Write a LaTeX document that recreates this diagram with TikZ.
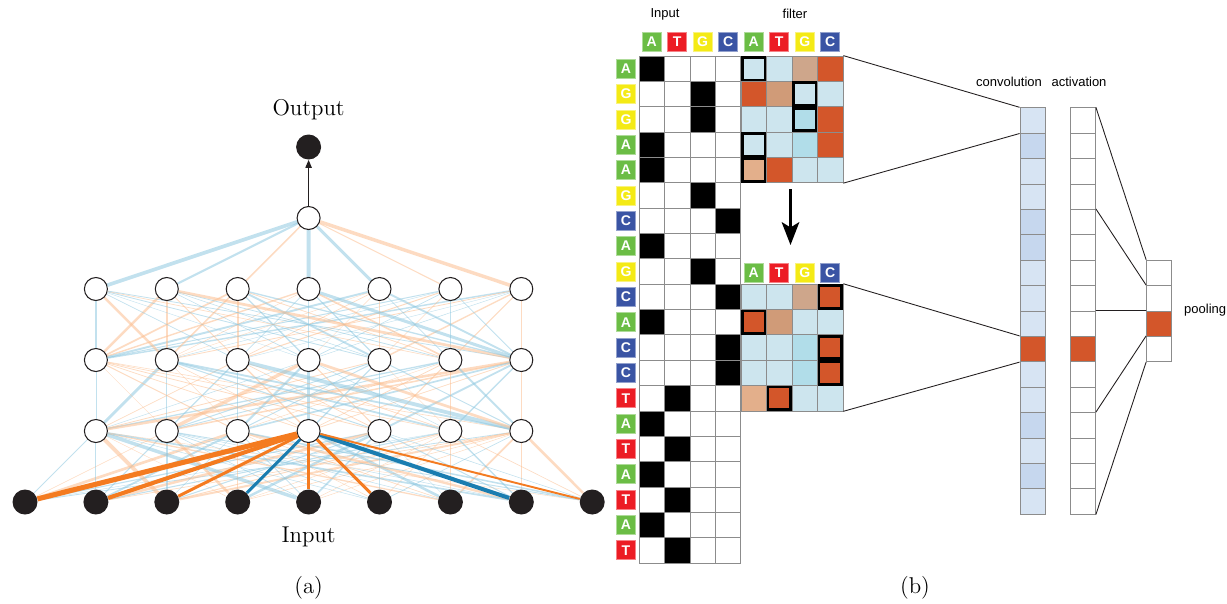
\documentclass[tikz,border=0pt]{standalone}
\usepackage{fontspec}
\setsansfont{Liberation Sans}
\usetikzlibrary{arrows.meta}
\definecolor{nA}{HTML}{6BBD45}
\definecolor{nT}{HTML}{EC1C24}
\definecolor{nG}{HTML}{F4EA15}
\definecolor{nC}{HTML}{3A54A4}
\definecolor{wblue}{HTML}{8FC8E0}
\definecolor{worange}{HTML}{FBBE90}
\definecolor{hblue}{HTML}{1A7DB0}
\definecolor{horange}{HTML}{F47B20}
\definecolor{fl}{HTML}{CDE5EE}
\definecolor{fd}{HTML}{B1DDE9}
\definecolor{fr}{HTML}{D3562A}
\definecolor{ft}{HTML}{CEA68B}
\definecolor{fs}{HTML}{D09B78}
\definecolor{fp}{HTML}{E3AF8B}
\definecolor{cl}{HTML}{D7E4F3}
\definecolor{cd}{HTML}{C6D7EE}
\definecolor{gridline}{HTML}{8C8C8C}
\definecolor{ink}{HTML}{231F20}
\pgfdeclarelayer{bg}
\pgfsetlayers{bg,main}
\tikzset{
  unit/.style={circle,draw=ink,line width=0.6pt,fill=white,minimum size=0.46cm,inner sep=0pt},
  xunit/.style={circle,fill=ink,minimum size=0.5cm,inner sep=0pt},
  wire/.style={line width=#1,opacity=0.55},
  hot/.style={line width=#1},
  cell/.style={draw=gridline,line width=0.45pt,minimum width=0.509cm,minimum height=0.507cm,inner sep=0pt},
  hit/.style={draw=black,line width=1.6pt,minimum width=0.509cm-1.6pt,minimum height=0.507cm-1.6pt,inner sep=0pt},
  base/.style={fill=#1,draw=#1!55!white,line width=0.4pt,text=white,font=\sffamily\bfseries\fontsize{8}{8}\selectfont,minimum size=0.38cm,inner sep=0pt},
  tag/.style={font=\sffamily\fontsize{7.4}{9}\selectfont},
  big/.style={font=\fontsize{13}{15}\selectfont},
  link/.style={draw=ink,line width=0.5pt}
}
\newcommand{\layer}[2]{\foreach \j in {1,...,7} \node[unit] (#1-\j) at ({25+70.9*\j},#2) {};}

\begin{document}
\begin{tikzpicture}[x=0.02cm,y=-0.02cm]
\useasboundingbox (0,0) rectangle (1227,603);
\foreach \k in {1,...,9} \node[xunit] (x-\k) at ({25+70.9*(\k-1)},502) {};
\layer{a}{431}
\layer{b}{360}
\layer{c}{289}
\node[unit] (t) at (308.6,218) {};
\node[xunit] (o) at (308.6,147) {};
\node[big] (outlbl) at (308.6,110) {Output};
\node[big] (inlbl) at (308.6,537) {Input};
\node[big] (la) at (308.6,588) {(a)};
\draw[ink,line width=0.6pt,-{Triangle[length=4.5pt,width=3.6pt]}] (t) -- (o);

\pgfmathsetseed{7}
\begin{pgfonlayer}{bg}
\foreach \k in {1,...,9} \foreach \j in {1,...,7} {
  \pgfmathsetmacro\lw{0.2+2.2*rnd*rnd}
  \pgfmathtruncatemacro\hue{rnd<0.55}
  \ifnum\hue=1 \def\lc{wblue}\else\def\lc{worange}\fi
  \draw[\lc,wire=\lw pt] (x-\k) -- (a-\j);
}
\foreach \lo/\up in {a/b,b/c} \foreach \k in {1,...,7} \foreach \j in {1,...,7} {
  \pgfmathsetmacro\lw{0.2+2.2*rnd*rnd}
  \pgfmathtruncatemacro\hue{rnd<0.55}
  \ifnum\hue=1 \def\lc{wblue}\else\def\lc{worange}\fi
  \draw[\lc,wire=\lw pt] (\lo-\k) -- (\up-\j);
}
\foreach \j/\lc/\w in {1/wblue/2.1,2/wblue/1.2,3/worange/0.9,4/wblue/2.3,5/wblue/1.7,6/worange/0.6,7/worange/2.0}
  \draw[\lc,wire=\w pt] (t) -- (c-\j);
\end{pgfonlayer}
\foreach \k/\lc/\w in {1/horange/2.9,2/horange/2.3,3/horange/1.7,4/hblue/1.7,5/horange/1.7,6/horange/1.7,8/hblue/2.3,9/horange/1.1}
  \draw[\lc,hot=\w pt] (a-4) -- (x-\k);

\node[tag] (tin) at (665,14) {Input};
\node[tag] (tfl) at (795,14) {filter};
\foreach \b [count=\j] in {A,T,G,C} {
  \node[base=n\b] (hi-\j) at ({639+25.45*(\j-0.5)},42) {\b};
  \node[base=n\b] (hf-\j) at ({741+25.5*(\j-0.5)},42) {\b};
  \node[base=n\b] (hg-\j) at ({741+25.5*(\j-0.5)},273) {\b};
}
\foreach \b/\p [count=\i] in {A/1,G/3,G/3,A/1,A/1,G/3,C/4,A/1,G/3,C/4,A/1,C/4,C/4,T/2,A/1,T/2,A/1,T/2,A/1,T/2} {
  \node[base=n\b] (r-\i) at (626,{56+25.35*(\i-0.5)}) {\b};
  \foreach \j in {1,...,4} {
    \ifnum\j=\p \def\fc{black}\else\def\fc{white}\fi
    \node[cell,fill=\fc] (in-\i-\j) at ({639+25.45*(\j-0.5)},{56+25.35*(\i-0.5)}) {};
  }
}
\foreach \ma/\mb/\mc/\md [count=\i] in {fl/fl/ft/fr,fr/fs/fl/fl,fl/fl/fd/fr,fl/fl/fd/fr,fp/fr/fl/fl} {
  \foreach \w [count=\j] in {\ma,\mb,\mc,\md} {
    \node[cell,fill=\w] (fa-\i-\j) at ({741+25.5*(\j-0.5)},{56+25.35*(\i-0.5)}) {};
    \node[cell,fill=\w] (fb-\i-\j) at ({741+25.5*(\j-0.5)},{284.15+25.35*(\i-0.5)}) {};
  }
}
\foreach \i/\j in {1/1,2/3,3/3,4/1,5/1} \node[hit] (ha-\i) at (fa-\i-\j) {};
\foreach \i/\j in {1/4,2/1,3/4,4/4,5/2} \node[hit] (hb-\i) at (fb-\i-\j) {};
\coordinate (dn1) at (790.5,189);
\coordinate (dn2) at (790.5,245);
\draw[line width=1.5pt,-{Stealth[length=13pt,width=10pt,inset=3pt]}] (dn1) -- (dn2);

\foreach \f [count=\i] in {cl,cd,cl,cl,cd,cd,cl,cl,cl,fr,cl,cl,cd,cl,cd,cl} {
  \node[cell,fill=\f,minimum width=0.5cm,minimum height=0.508cm] (cv-\i) at (1032.5,{107.7+25.4*(\i-0.5)}) {};
  \ifnum\i=10 \def\fc{fr}\else\def\fc{white}\fi
  \node[cell,fill=\fc,minimum width=0.5cm,minimum height=0.508cm] (ac-\i) at (1083,{107.7+25.4*(\i-0.5)}) {};
}
\foreach \f [count=\i] in {white,white,fr,white}
  \node[cell,fill=\f,minimum width=0.5cm,minimum height=0.508cm] (pl-\i) at (1159,{260.1+25.4*(\i-0.5)}) {};
\node[tag] (tcv) at (1009,82) {convolution};
\node[tag] (tac) at (1079,82) {activation};
\node[tag,anchor=west] (tpl) at (1178,310) {pooling};
\node[big] (lb) at (915,588) {(b)};

\draw[link] (fa-1-4.north east) -- (cv-1.north west);
\draw[link] (fa-5-4.south east) -- (cv-1.south west);
\draw[link] (fb-1-4.north east) -- (cv-10.north west);
\draw[link] (fb-5-4.south east) -- (cv-10.south west);
\draw[link] (ac-1.north east) -- (pl-1.north west);
\draw[link] (ac-5.north east) -- (pl-2.north west);
\draw[link] (ac-9.north east) -- (pl-3.north west);
\draw[link] (ac-13.north east) -- (pl-4.north west);
\draw[link] (ac-16.south east) -- (pl-4.south west);
\end{tikzpicture}
\end{document}
